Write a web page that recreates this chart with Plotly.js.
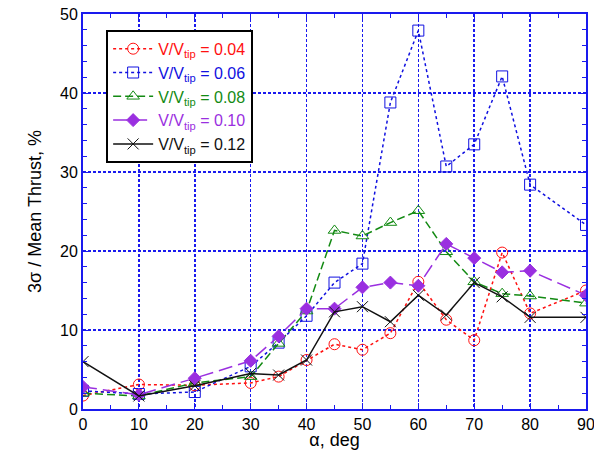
<!DOCTYPE html>
<html>
<head>
<meta charset="utf-8">
<script src="https://cdn.plot.ly/plotly-3.0.1.min.js"></script>
<style>html,body{margin:0;padding:0;background:#fff;}#chart{width:594px;height:450px;}</style>
</head>
<body>
<div id="chart"></div>
<script>
const alpha = [0, 10, 20, 30, 35, 40, 45, 50, 55, 60, 65, 70, 75, 80, 90];
const v004 = [1.7, 3.1, 3.0, 3.3, 4.1, 6.2, 8.2, 7.5, 9.6, 16.1, 11.3, 8.7, 19.8, 12.1, 15.0];
const v006 = [2.3, 1.9, 2.15, 5.4, 8.4, 11.8, 16.0, 18.4, 38.8, 47.9, 30.7, 33.5, 42.1, 28.4, 23.3];
const v008 = [2.0, 1.65, 3.3, 4.1, 8.3, 12.4, 22.6, 21.9, 23.6, 25.1, 19.9, 16.1, 14.6, 14.3, 13.4];
const v010 = [2.8, 1.8, 3.9, 6.1, 9.2, 12.7, 12.7, 15.4, 16.0, 15.6, 20.9, 19.1, 17.3, 17.5, 14.4];
const v012 = [6.0, 1.65, 2.95, 4.5, 4.3, 6.2, 12.3, 12.95, 11.05, 14.4, 11.9, 16.0, 14.2, 11.6, 11.6];
const labels = ["0.04", "0.06", "0.08", "0.10", "0.12"];

const colors = ["#ff1010", "#1010e0", "#138a13", "#9a2fe0", "#111111"];
const dashes = ["dot", "3px,3px", "8px,4px", "14px,6px", "solid"];
const symbols = ["circle-open", "square-open", "triangle-up-open", "diamond", "x-thin-open"];
const sizes = [11, 11, 11, 10, 11];
const series = [v004, v006, v008, v010, v012];

const traces = series.map((y, i) => ({
  x: alpha, y: y, type: "scatter", mode: "lines+markers",
  name: '<span style="color:' + colors[i] + '">V/V<sub>tip</sub> = ' + labels[i] + '</span>',
  line: {color: colors[i], dash: dashes[i], width: 1.5},
  marker: {symbol: symbols[i], size: sizes[i], color: colors[i], line: {color: colors[i], width: 1}}
}));

const gridCol = "#1a1aee";
const layout = {
  width: 594, height: 450,
  margin: {l: 83, r: 8, t: 14, b: 41},
  paper_bgcolor: "#fff", plot_bgcolor: "#fff",
  font: {family: "Liberation Sans, Arial, sans-serif", size: 16, color: "#000"},
  showlegend: true,
  legend: {
    x: 0.046, y: 0.96, xanchor: "left", yanchor: "top",
    bgcolor: "#fff", bordercolor: "#000", borderwidth: 2,
    font: {size: 16}, tracegroupgap: 0, itemwidth: 40
  },
  xaxis: {
    range: [0, 90], dtick: 10, tick0: 0,
    showline: true, mirror: "ticks", linecolor: gridCol, linewidth: 2,
    showgrid: true, gridcolor: gridCol, gridwidth: 1.5, griddash: "3px,2px",
    ticks: "inside", ticklen: 6, tickcolor: gridCol, zeroline: false,
    ticklabeloverflow: "allow",
    minor: {dtick: 5, ticks: "inside", ticklen: 4, tickcolor: gridCol, showgrid: false},
    title: {text: "α, deg", font: {size: 18}, standoff: 4},
    tickfont: {size: 16}
  },
  yaxis: {
    range: [0, 50], dtick: 10, tick0: 0,
    showline: true, mirror: "ticks", linecolor: gridCol, linewidth: 2,
    showgrid: true, gridcolor: gridCol, gridwidth: 1.5, griddash: "3px,2px",
    ticks: "inside", ticklen: 6, tickcolor: gridCol, zeroline: false,
    ticklabeloverflow: "allow",
    minor: {dtick: 2, ticks: "inside", ticklen: 4, tickcolor: gridCol, showgrid: false},
    title: {text: "3σ / Mean Thrust, %", font: {size: 18}, standoff: 14},
    tickfont: {size: 16}
  },
  shapes: [{
    type: "rect", xref: "paper", yref: "paper", layer: "below",
    x0: 0.052, x1: 0.315, y0: 0.625, y1: 0.953,
    fillcolor: "#555", line: {width: 0}
  }]
};
Plotly.newPlot("chart", traces, layout, {displayModeBar: false, staticPlot: true});
</script>
</body>
</html>
